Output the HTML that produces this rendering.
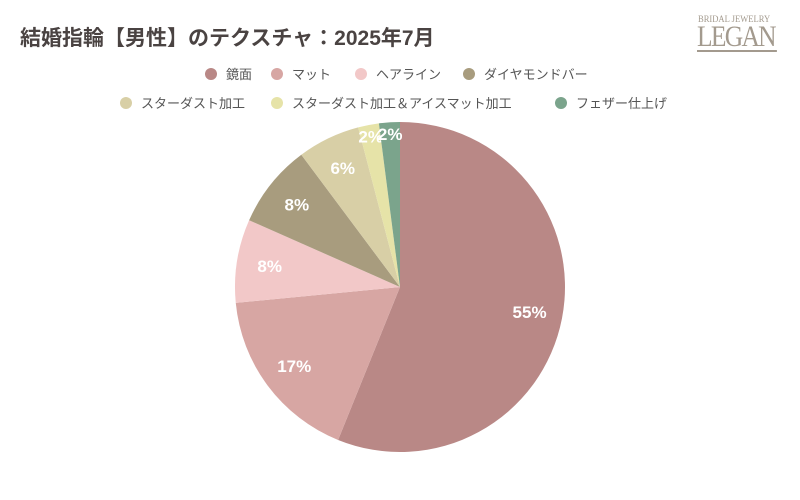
<!DOCTYPE html>
<html><head><meta charset="utf-8"><style>
html,body{margin:0;padding:0;background:#fff;}
body{width:800px;height:500px;position:relative;overflow:hidden;font-family:"Liberation Sans","Noto Sans CJK JP",sans-serif;}
#title{position:absolute;left:20px;top:22px;font-size:21px;font-weight:bold;color:#4a4342;}
.leg{position:absolute;font-size:13px;color:#555;display:flex;align-items:center;white-space:nowrap;}
.dot{width:12px;height:12px;border-radius:50%;margin-right:9px;display:inline-block;}
#logo{position:absolute;left:697px;top:14px;color:#a39a8e;font-family:"Liberation Serif",serif;}
</style></head><body>
<div id="title">結婚指輪【男性】のテクスチャ：2025年7月</div>
<div id="logo">
<div style="font-size:9px;letter-spacing:0px;margin-left:1px;transform:scaleX(0.95);transform-origin:left">BRIDAL JEWELRY</div>
<div style="font-size:30px;line-height:26px;letter-spacing:-2px;border-bottom:2px solid #a39a8e;width:80px;transform:scaleX(0.85);transform-origin:left;width:94px">LEGAN</div>
</div>
<div id="legend"></div>
<svg id="chart" width="800" height="500" style="position:absolute;left:0;top:0"></svg>
<script>
const categories=["鏡面","マット","ヘアライン","ダイヤモンドバー","スターダスト加工","スターダスト加工＆アイスマット加工","フェザー仕上げ"];
const values=[55,17,8,8,6,2,2];
const colors=["#b98886","#d7a6a3","#f2c8c8","#a89c7e","#d8cfa6","#e6e3a8","#7ba48c"];
const legendX=[211,277,361,469,126,277,561];
const legendY=[73,73,73,73,102,102,102];
const ns="http://www.w3.org/2000/svg";
const svg=document.getElementById('chart');
const cx=400,cy=287,r=165;
const total=values.reduce((a,b)=>a+b,0);
let a0=0;
function pt(a,rr){return [cx+rr*Math.sin(a),cy-rr*Math.cos(a)];}
values.forEach((v,i)=>{
  const a1=a0+v/total*2*Math.PI;
  const p0=pt(a0,r),p1=pt(a1,r);
  const large=(a1-a0)>Math.PI?1:0;
  const path=document.createElementNS(ns,'path');
  path.setAttribute('d',`M${cx},${cy} L${p0[0]},${p0[1]} A${r},${r} 0 ${large} 1 ${p1[0]},${p1[1]} Z`);
  path.setAttribute('fill',colors[i]);
  
  
  svg.appendChild(path);
  const am=(a0+a1)/2;
  const lr=i>=5?r*0.93:r*0.8;
  const lp=pt(am,lr);
  const t=document.createElementNS(ns,'text');
  t.setAttribute('x',lp[0]);t.setAttribute('y',lp[1]+6);
  t.setAttribute('text-anchor','middle');
  t.setAttribute('fill','#fff');
  t.setAttribute('font-size','17');t.setAttribute('font-weight','bold');
  t.setAttribute('font-family','"Liberation Sans",sans-serif');
  t.textContent=v+'%';
  
  
  svg.appendChild(t);
  a0=a1;
});
const leg=document.getElementById('legend');
categories.forEach((c,i)=>{
  const d=document.createElement('div');
  d.className='leg';
  d.style.left=(legendX[i]-6)+'px';
  d.style.top=(legendY[i]-9)+'px';
  d.innerHTML='<span class="dot" style="background:'+colors[i]+'"></span>'+c;
  
  
  leg.appendChild(d);
});
</script>
</body></html>
